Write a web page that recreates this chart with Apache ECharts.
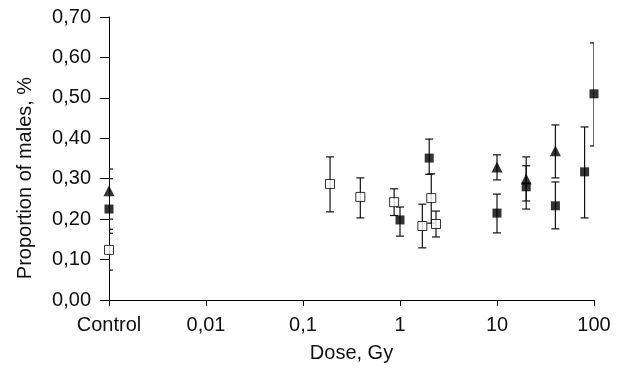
<!DOCTYPE html>
<html>
<head>
<meta charset="utf-8">
<script src="https://cdn.jsdelivr.net/npm/echarts@6/dist/echarts.min.js"></script>
<style>html,body{margin:0;padding:0;background:#fff}#c{width:625px;height:374px}</style>
</head>
<body>
<div id="c"></div>
<script>
// Filled squares
var filledDose = [0.001, 1.0, 2.0, 10, 20, 40, 80, 100];
var filledVal  = [0.225, 0.198, 0.351, 0.215, 0.280, 0.233, 0.317, 0.510];
var filledLow  = [0.175, 0.158, 0.311, 0.166, 0.225, 0.176, 0.203, 0.381];
var filledHigh = [0.300, 0.230, 0.398, 0.262, 0.332, 0.292, 0.428, 0.636];
// Open squares
var openDose = [0.001, 0.19, 0.39, 0.87, 1.7, 2.1, 2.35];
var openVal  = [0.124, 0.287, 0.255, 0.242, 0.183, 0.252, 0.188];
var openLow  = [0.074, 0.218, 0.203, 0.209, 0.129, 0.190, 0.156];
var openHigh = [0.165, 0.354, 0.302, 0.275, 0.237, 0.312, 0.220];
// Filled triangles
var triDose = [0.001, 10, 20, 40];
var triVal  = [0.270, 0.329, 0.299, 0.369];
var triLow  = [0.200, 0.297, 0.245, 0.302];
var triHigh = [0.324, 0.359, 0.354, 0.433];
// Axis labels
var xTickLabels = {'-3': 'Control', '-2': '0,01', '-1': '0,1', '0': '1', '1': '10', '2': '100'};

function pts(d, v) { return d.map(function (x, i) { return [x, v[i]]; }); }
function errs(d, lo, hi) { return d.map(function (x, i) { return [x, lo[i], hi[i]]; }); }

function errRender(params, api) {
  var x = api.value(0), lo = api.value(1), hi = api.value(2);
  var p1 = api.coord([x, hi]), p2 = api.coord([x, lo]);
  var w = 4;
  var st = {stroke: '#111', lineWidth: 1.2};
  return {
    type: 'group',
    children: [
      {type: 'line', shape: {x1: p1[0], y1: p1[1], x2: p2[0], y2: p2[1]}, style: st},
      {type: 'line', shape: {x1: p1[0] - w, y1: p1[1], x2: p1[0] + w, y2: p1[1]}, style: st},
      {type: 'line', shape: {x1: p2[0] - w, y1: p2[1], x2: p2[0] + w, y2: p2[1]}, style: st}
    ]
  };
}

var chart = echarts.init(document.getElementById('c'), null, {renderer: 'canvas'});
var font = 'Liberation Sans, Arial, sans-serif';
chart.setOption({
  animation: false,
  backgroundColor: '#fff',
  grid: {left: 109, right: 31, top: 17, bottom: 74, containLabel: false},
  xAxis: {
    type: 'log', logBase: 10, min: 0.001, max: 100,
    name: 'Dose, Gy', nameLocation: 'middle', nameGap: 43,
    nameTextStyle: {fontFamily: font, fontSize: 20, color: '#111'},
    axisLine: {show: true, lineStyle: {color: '#000', width: 1}},
    axisTick: {show: true, length: 6, lineStyle: {color: '#000'}},
    minorTick: {show: false},
    splitLine: {show: false},
    axisLabel: {
      fontFamily: font, fontSize: 20, color: '#111', margin: 15,
      formatter: function (v) { var k = Math.round(Math.log10(v)); return xTickLabels[String(k)] || ''; }
    }
  },
  yAxis: {
    type: 'value', min: 0, max: 0.7, interval: 0.1,
    axisLine: {show: true, lineStyle: {color: '#000', width: 1}},
    axisTick: {show: true, length: 9, lineStyle: {color: '#000'}},
    splitLine: {show: false},
    axisLabel: {
      fontFamily: font, fontSize: 20, color: '#111', margin: 18,
      formatter: function (v) { return v.toFixed(2).replace('.', ','); }
    }
  },
  graphic: [{
    type: 'text', x: 25, y: 178, rotation: Math.PI / 2,
    style: {text: 'Proportion of males, %', fontFamily: font, fontSize: 20, fill: '#111',
      align: 'center', verticalAlign: 'middle'}
  }],
  series: [
    {type: 'custom', renderItem: errRender, data: errs(filledDose, filledLow, filledHigh), clip: true, z: 1,
      encode: {x: 0, y: [1, 2]}},
    {type: 'custom', renderItem: errRender, data: errs(openDose, openLow, openHigh), clip: true, z: 1,
      encode: {x: 0, y: [1, 2]}},
    {type: 'custom', renderItem: errRender, data: errs(triDose, triLow, triHigh), clip: true, z: 1,
      encode: {x: 0, y: [1, 2]}},
    {type: 'scatter', data: pts(filledDose, filledVal), symbol: 'rect', symbolSize: 9, clip: false, z: 3,
      itemStyle: {color: '#000'}},
    {type: 'scatter', data: pts(openDose, openVal), symbol: 'rect', symbolSize: 9, clip: false, z: 4,
      itemStyle: {color: '#fff', borderColor: '#000', borderWidth: 1}},
    {type: 'scatter', data: pts(triDose, triVal), symbol: 'triangle', symbolSize: 11, clip: false, z: 5,
      itemStyle: {color: '#000'}}
  ]
});
</script>
</body>
</html>
